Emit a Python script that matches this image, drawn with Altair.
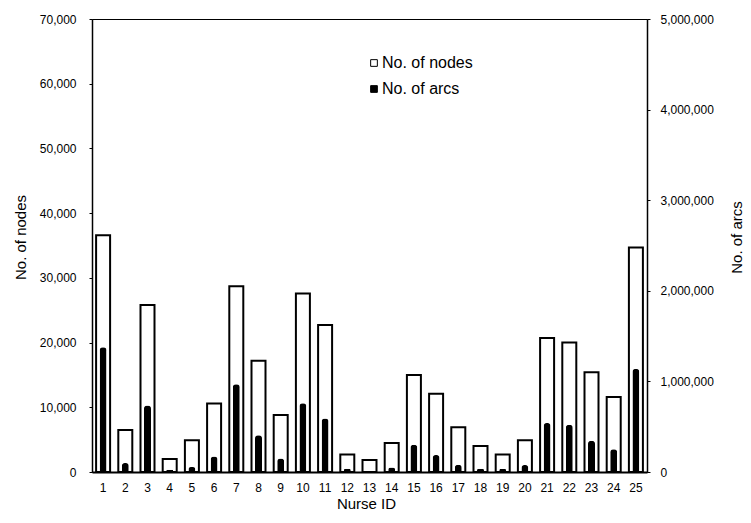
import altair as alt
import pandas as pd

nurse_ids = list(range(1, 26))
nodes = [36600, 6500, 25800, 2000, 4900, 10600, 28700, 17200, 8800, 27600,
         22700, 2700, 1850, 4500, 15000, 12100, 6900, 4000, 2700, 4900,
         20700, 20000, 15400, 11600, 34700]
arcs = [1376000, 99000, 734000, 26000, 55000, 170000, 969000, 407000, 148000, 760000,
        591000, 37000, 12000, 51000, 301000, 187000, 81000, 37000, 33000, 77000,
        540000, 521000, 345000, 250000, 1138000]
series_names = ["No. of nodes", "No. of arcs"]

df = pd.DataFrame({"id": nurse_ids, "nodes": nodes, "arcs": arcs})
df["s_nodes"] = series_names[0]
df["s_arcs"] = series_names[1]

FONT = "Liberation Sans"

x_enc = alt.X("id:O", title="Nurse ID",
              scale=alt.Scale(paddingInner=0, paddingOuter=0),
              axis=alt.Axis(labelAngle=0, ticks=False, labelPadding=10,
                            domainWidth=2, domainColor="black",
                            titleY=36, titleBaseline="alphabetic",
                            titleX=274))

color_scale = alt.Scale(domain=series_names, range=["white", "black"])

nodes_layer = alt.Chart(df).mark_bar(size=14, stroke="black", strokeWidth=2).encode(
    x=x_enc,
    y=alt.Y("nodes:Q", title="No. of nodes",
            scale=alt.Scale(domain=[0, 70000], nice=False),
            axis=alt.Axis(orient="left", values=list(range(0, 70001, 10000)), format=",d",
                          grid=False, tickSize=3, labelPadding=13,
                          domainColor="black", tickColor="black", domainWidth=1.5,
                          titleX=-72, titleY=218, titleBaseline="middle",
                          titleAlign="center", titleAngle=270)),
    color=alt.Color("s_nodes:N", scale=color_scale,
                    legend=alt.Legend(title=None, orient="none", legendX=274, legendY=36,
                                      symbolType="square", symbolSize=45,
                                      symbolStrokeColor="black", symbolStrokeWidth=1,
                                      labelFontSize=16, labelFont=FONT, labelOffset=0,
                                      rowPadding=10, labelColor="black")),
)

arcs_layer = alt.Chart(df).mark_bar(size=7, color="black",
                                    cornerRadiusTopLeft=3, cornerRadiusTopRight=3).encode(
    x=x_enc,
    y=alt.Y("arcs:Q", title="No. of arcs",
            scale=alt.Scale(domain=[0, 5000000], nice=False),
            axis=alt.Axis(orient="right", values=list(range(0, 5000001, 1000000)), format=",d",
                          grid=False, tickSize=3, labelPadding=10,
                          domainColor="black", tickColor="black", domainWidth=1.5,
                          titleX=89, titleY=218, titleBaseline="middle",
                          titleAlign="center", titleAngle=270)),
    color=alt.Color("s_arcs:N", scale=color_scale),
)

chart = alt.layer(nodes_layer, arcs_layer).resolve_scale(y="independent").properties(
    width=555, height=453,
    background="white",
    autosize=alt.AutoSizeParams(type="none"),
    padding={"left": 84, "top": 11, "right": 96, "bottom": 40},
).configure_view(stroke="black", strokeWidth=1).configure_axis(
    labelFont=FONT, titleFont=FONT, labelFontSize=12, titleFontSize=15,
    labelColor="black", titleColor="black", titleFontWeight="normal",
)

chart.save("out.html", embed_options={"renderer": "svg", "actions": False})
